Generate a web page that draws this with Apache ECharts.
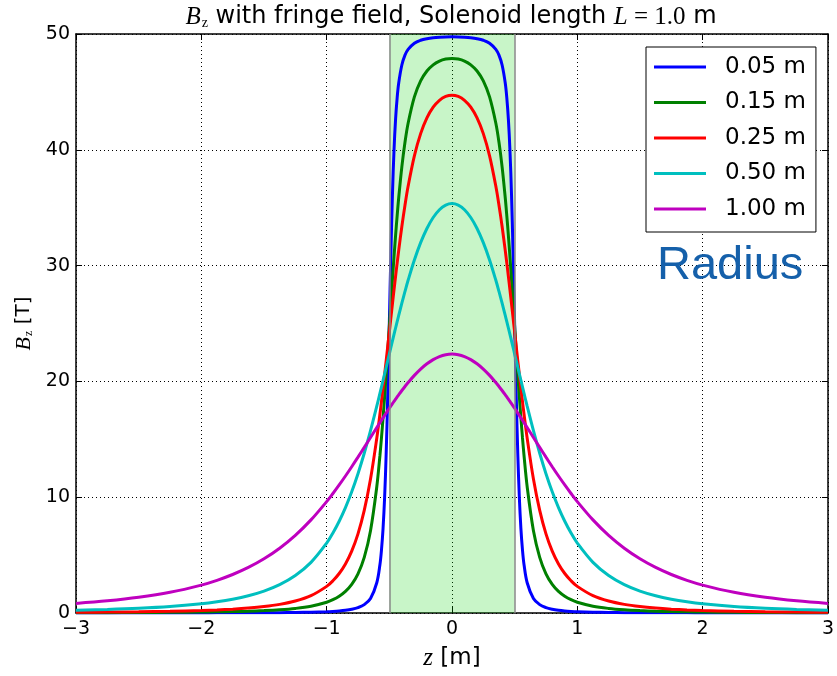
<!DOCTYPE html>
<html><head><meta charset="utf-8">
<script src="https://cdn.jsdelivr.net/npm/echarts@6/dist/echarts.min.js"></script>
<style>html,body{margin:0;padding:0;background:#fff}#c{width:837px;height:676px}</style>
</head><body><div id="c"></div>
<script>
// z positions [m]
const zValues = [-3,-2.75,-2.5,-2.25,-2,-1.875,-1.75,-1.625,-1.5,-1.375,-1.25,-1.125,-1,-0.95,-0.9,-0.85,-0.8,-0.75,-0.7,-0.65,-0.6,-0.575,-0.5625,-0.55,-0.5375,-0.525,-0.5125,-0.5,-0.4875,-0.475,-0.4625,-0.45,-0.4375,-0.425,-0.4,-0.375,-0.35,-0.3,-0.25,-0.2,-0.15,-0.1,-0.05,
  0,
  0.05,0.1,0.15,0.2,0.25,0.3,0.35,0.375,0.4,0.425,0.4375,0.45,0.4625,0.475,0.4875,0.5,0.5125,0.525,0.5375,0.55,0.5625,0.575,0.6,0.65,0.7,0.75,0.8,0.85,0.9,0.95,1,1.125,1.25,1.375,1.5,1.625,1.75,1.875,2,2.25,2.5,2.75,3];
// Bz [T] for each radius
const bzR005 = [0.002,0.003,0.004,0.006,0.009,0.011,0.014,0.018,0.023,0.032,0.045,0.068,0.110,0.138,0.177,0.234,0.322,0.466,0.725,1.259,2.614,4.172,5.451,7.294,9.971,13.790,18.906,24.969,31.031,36.148,39.966,42.643,44.486,45.765,47.322,48.171,48.674,49.205,49.459,49.596,49.676,49.721,49.744,
  49.752,
  49.744,49.721,49.676,49.596,49.459,49.205,48.674,48.171,47.322,45.765,44.486,42.643,39.966,36.148,31.031,24.969,18.906,13.790,9.971,7.294,5.451,4.172,2.614,1.259,0.725,0.466,0.322,0.234,0.177,0.138,0.110,0.068,0.045,0.032,0.023,0.018,0.014,0.011,0.009,0.006,0.004,0.003,0.002];
const bzR015 = [0.022,0.029,0.039,0.054,0.079,0.098,0.122,0.157,0.207,0.280,0.394,0.585,0.930,1.150,1.450,1.868,2.476,3.385,4.807,7.112,10.903,13.580,15.139,16.844,18.679,20.627,22.654,24.723,26.793,28.819,30.765,32.600,34.301,35.858,38.527,40.645,42.297,44.572,45.952,46.806,47.338,47.662,47.836,
  47.891,
  47.836,47.662,47.338,46.806,45.952,44.572,42.297,40.645,38.527,35.858,34.301,32.600,30.765,28.819,26.793,24.723,22.654,20.627,18.679,16.844,15.139,13.580,10.903,7.112,4.807,3.385,2.476,1.868,1.450,1.150,0.930,0.585,0.394,0.280,0.207,0.157,0.122,0.098,0.079,0.054,0.039,0.029,0.022];
const bzR025 = [0.061,0.079,0.107,0.148,0.216,0.266,0.333,0.424,0.553,0.743,1.032,1.497,2.299,2.783,3.411,4.239,5.345,6.837,8.857,11.567,15.094,17.167,18.272,19.417,20.596,21.800,23.023,24.254,25.484,26.704,27.906,29.080,30.219,31.318,33.373,35.218,36.847,39.479,41.395,42.749,43.677,44.277,44.613,
  44.721,
  44.613,44.277,43.677,42.749,41.395,39.479,36.847,35.218,33.373,31.318,30.219,29.080,27.906,26.704,25.484,24.254,23.023,21.800,20.596,19.417,18.272,17.167,15.094,11.567,8.857,6.837,5.345,4.239,3.411,2.783,2.299,1.497,1.032,0.743,0.553,0.424,0.333,0.266,0.216,0.148,0.107,0.079,0.061];
const bzR050 = [0.235,0.305,0.406,0.559,0.797,0.969,1.193,1.490,1.893,2.450,3.237,4.373,6.039,6.910,7.926,9.107,10.471,12.032,13.792,15.743,17.856,18.960,19.520,20.084,20.651,21.221,21.791,22.361,22.929,23.494,24.055,24.611,25.160,25.701,26.757,27.769,28.732,30.485,31.982,33.206,34.152,34.823,35.223,
  35.355,
  35.223,34.823,34.152,33.206,31.982,30.485,28.732,27.769,26.757,25.701,25.160,24.611,24.055,23.494,22.929,22.361,21.791,21.221,20.651,20.084,19.520,18.960,17.856,15.743,13.792,12.032,10.471,9.107,7.926,6.910,6.039,4.373,3.237,2.450,1.893,1.490,1.193,0.969,0.797,0.559,0.406,0.305,0.235];
const bzR100 = [0.826,1.049,1.356,1.789,2.411,2.822,3.324,3.935,4.683,5.596,6.706,8.041,9.621,10.321,11.059,11.830,12.632,13.458,14.303,15.157,16.011,16.435,16.646,16.855,17.063,17.270,17.475,17.678,17.879,18.077,18.274,18.467,18.658,18.846,19.212,19.564,19.900,20.520,21.063,21.520,21.883,22.147,22.307,
  22.361,
  22.307,22.147,21.883,21.520,21.063,20.520,19.900,19.564,19.212,18.846,18.658,18.467,18.274,18.077,17.879,17.678,17.475,17.270,17.063,16.855,16.646,16.435,16.011,15.157,14.303,13.458,12.632,11.830,11.059,10.321,9.621,8.041,6.706,5.596,4.683,3.935,3.324,2.822,2.411,1.789,1.356,1.049,0.826];
const radiusLabels = ['0.05 m','0.15 m','0.25 m','0.50 m','1.00 m'];
const seriesValues = [bzR005, bzR015, bzR025, bzR050, bzR100];
const solenoidEnds = [-0.5, 0.5];
const xRange = [-3, 3];
const yRange = [0, 50];

const colors = ['#0000ff','#008000','#ff0000','#00bfbf','#bf00bf'];
const chart = echarts.init(document.getElementById('c'), null, {renderer:'canvas'});
const pairs = arr => zValues.map((z,i)=>[z, arr[i]]);
const fmtMinus = v => String(v).replace('-', '\u2212');
const grid = {lineStyle:{color:'#000', width:1, type:[1,3]}};
const axisLineS = {show:true, onZero:false, lineStyle:{color:'#000', width:1.5}};
const tickS = {show:true, inside:true, length:6, lineStyle:{color:'#000', width:1}};
const mathRich = {
  b:{fontFamily:'Liberation Serif', fontStyle:'italic', fontSize:25, color:'#000'},
  s:{fontFamily:'Liberation Serif', fontSize:14, color:'#000', padding:[12,0,0,1]},
  t:{fontFamily:'DejaVu Sans', fontSize:24, color:'#000'},
  e:{fontFamily:'Liberation Serif', fontSize:25, color:'#000'}
};

const series = seriesValues.map((vals, i) => ({
  name: radiusLabels[i], type:'line', data: pairs(vals), showSymbol:false, symbol:'none',
  smooth:0.35, lineStyle:{width:3, color:colors[i]}, itemStyle:{color:colors[i]}, z:3
}));
series.unshift({
  name:'solenoid', type:'line', data:[], z:1, silent:true,
  markArea:{silent:true, itemStyle:{color:'rgba(0,209,0,0.216)'},
    data:[[{xAxis:solenoidEnds[0], yAxis:yRange[0]},{xAxis:solenoidEnds[1], yAxis:yRange[1]}]]},
  markLine:{silent:true, symbol:'none', label:{show:false},
    lineStyle:{color:'#888', width:1.5, type:'solid'},
    data: solenoidEnds.map(v=>({xAxis:v}))}
});

chart.setOption({
  animation:false,
  backgroundColor:'#fff',
  textStyle:{fontFamily:'DejaVu Sans'},
  grid:{left:76, right:8, top:34, bottom:59, containLabel:false},
  xAxis:[{
    type:'value', min:xRange[0], max:xRange[1], interval:1,
    axisLine:axisLineS, axisTick:tickS, splitLine:Object.assign({show:true}, grid),
    axisLabel:{formatter:fmtMinus, color:'#000', fontSize:19, fontFamily:'DejaVu Sans', margin:7},
    name:'{i|z}{t| [m]}', nameLocation:'middle', nameGap:33,
    nameTextStyle:{rich:{i:{fontFamily:'Liberation Serif', fontStyle:'italic', fontSize:25, color:'#000'}, t:{fontFamily:'DejaVu Sans', fontSize:23, color:'#000'}}}
  },{
    type:'value', position:'top', min:xRange[0], max:xRange[1], interval:1,
    axisLine:axisLineS, axisTick:tickS, axisLabel:{show:false}, splitLine:{show:false}
  }],
  yAxis:[{
    type:'value', min:yRange[0], max:yRange[1], interval:10,
    axisLine:axisLineS, axisTick:tickS, splitLine:Object.assign({show:true}, grid),
    axisLabel:{color:'#000', fontSize:19, fontFamily:'DejaVu Sans', margin:6},
    name:'{b|B}{s|z}{t| [T]}', nameLocation:'middle', nameGap:40, nameRotate:90,
    nameTextStyle:{rich:{
      b:{fontFamily:'Liberation Serif', fontStyle:'italic', fontSize:22, color:'#000'},
      s:{fontFamily:'Liberation Serif', fontSize:12, color:'#000', padding:[10,0,0,1]},
      t:{fontFamily:'DejaVu Sans', fontSize:20, color:'#000'}
    }}
  },{
    type:'value', position:'right', min:yRange[0], max:yRange[1], interval:10,
    axisLine:axisLineS, axisTick:tickS, axisLabel:{show:false}, splitLine:{show:false}
  }],
  legend:{
    data:radiusLabels, left:646, top:47, orient:'vertical',
    backgroundColor:'#fff', borderColor:'#000', borderWidth:1, borderRadius:0,
    padding:[7,10,10,8], itemGap:9.5, itemWidth:52, itemHeight:3, icon:'rect',
    textStyle:{fontSize:23, fontFamily:'DejaVu Sans', color:'#000', lineHeight:26, padding:[0,0,0,14]}
  },
  graphic:[{
    type:'text', x:451, y:17, z:10,
    style:{
      text:'{b|B}{s|z}{t| with fringe field, Solenoid length }{b|L}{e| = 1.0}{t| m}',
      rich:mathRich,
      align:'center', verticalAlign:'middle'
    }
  },{
    type:'text', x:657, y:266, z:10,
    style:{text:'Radius', fontFamily:'Liberation Sans', fontSize:47, fill:'#1560aa', align:'left', verticalAlign:'middle'}
  }],
  series:series
});
</script></body></html>
